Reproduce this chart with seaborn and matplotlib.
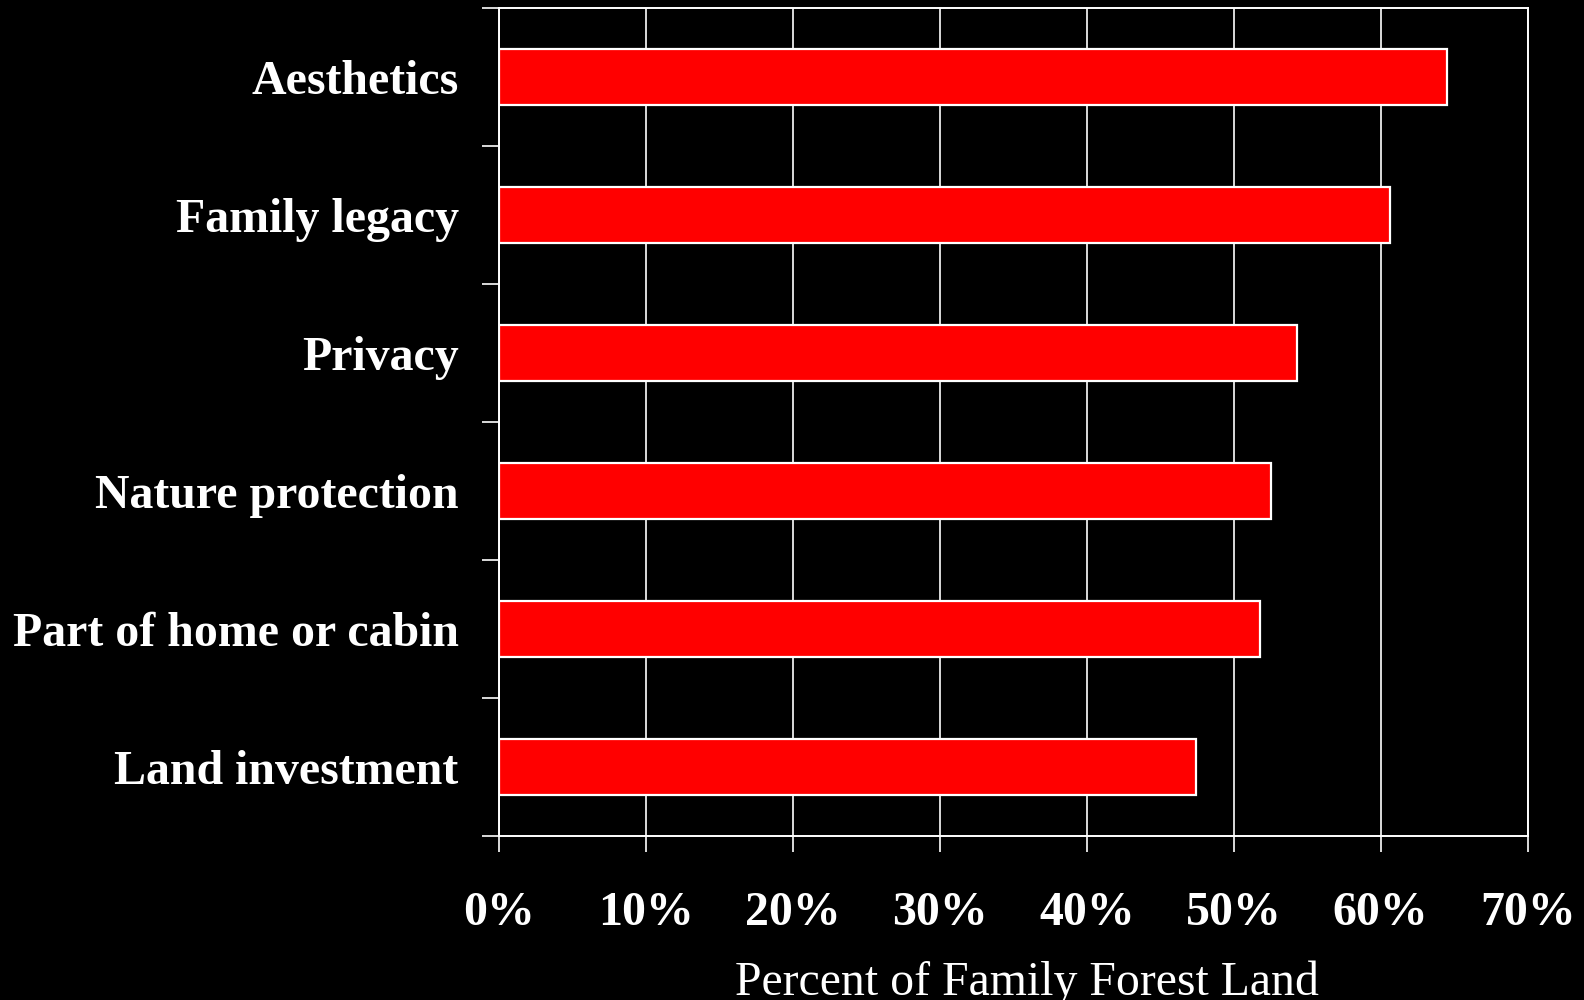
import matplotlib
matplotlib.use("Agg")
import matplotlib.pyplot as plt
import seaborn as sns
import pandas as pd
from matplotlib.ticker import FixedLocator, PercentFormatter

# Reasons for owning family forest land, share of land area (%)
reasons = [
    "Aesthetics",
    "Family legacy",
    "Privacy",
    "Nature protection",
    "Part of home or cabin",
    "Land investment",
]
percent_land = [64.5, 60.6, 54.3, 52.5, 51.8, 47.4]
x_ticks = [0, 10, 20, 30, 40, 50, 60, 70]
x_label = "Percent of Family Forest Land"

df = pd.DataFrame({"reason": reasons, "percent": percent_land})

sns.set_theme(style="dark")
plt.rcParams["font.family"] = ["Liberation Serif", "DejaVu Serif"]

fig = plt.figure(figsize=(15.84, 10.0), dpi=100, facecolor="black")
ax = fig.add_axes([499 / 1584, 1 - 836 / 1000, (1527.7 - 499) / 1584, (836 - 8) / 1000])
ax.set_facecolor("black")

sns.barplot(
    data=df, x="percent", y="reason", orient="h", order=reasons,
    color="#ff0000", saturation=1, width=0.4,
    edgecolor="white", linewidth=1.6, ax=ax, zorder=3,
)

ax.set_xlim(0, 70)
ax.set_ylim(len(reasons) - 0.5, -0.5)

# x axis: percent ticks with vertical gridlines
ax.xaxis.set_major_locator(FixedLocator(x_ticks))
ax.xaxis.set_major_formatter(PercentFormatter(decimals=0))
ax.grid(axis="x", color="white", linewidth=1.2, zorder=0)
ax.grid(axis="y", visible=False)
ax.tick_params(axis="x", which="major", direction="out", length=11.5, width=1.2,
               color="white", pad=28, labelsize=34.5, labelcolor="white", bottom=True)
for lab in ax.get_xticklabels():
    lab.set_fontweight("bold")

# y axis: tick marks between categories, labels centred on the bars
ax.yaxis.set_major_locator(FixedLocator([i - 0.5 for i in range(len(reasons) + 1)]))
ax.yaxis.set_minor_locator(FixedLocator(list(range(len(reasons)))))
ax.set_yticklabels([], minor=False)
ax.set_yticklabels(reasons, minor=True)
ax.tick_params(axis="y", which="major", direction="out", length=12, width=1.2,
               color="white", left=True)
ax.tick_params(axis="y", which="minor", length=0, pad=29, labelsize=34.5,
               labelcolor="white", left=True)
for lab in ax.get_yticklabels(minor=True):
    lab.set_fontweight("bold")
ax.set_ylabel("")

for side in ["left", "right", "top", "bottom"]:
    ax.spines[side].set_visible(True)
    ax.spines[side].set_color("white")
    ax.spines[side].set_linewidth(1.4)

ax.set_xlabel(x_label, fontsize=34.4, color="white", fontweight="normal")
ax.xaxis.label.set_verticalalignment("baseline")
ax.xaxis.set_label_coords(0.513, -(995 - 836) / 828)

fig.savefig("out.png", dpi=100, facecolor="black")
